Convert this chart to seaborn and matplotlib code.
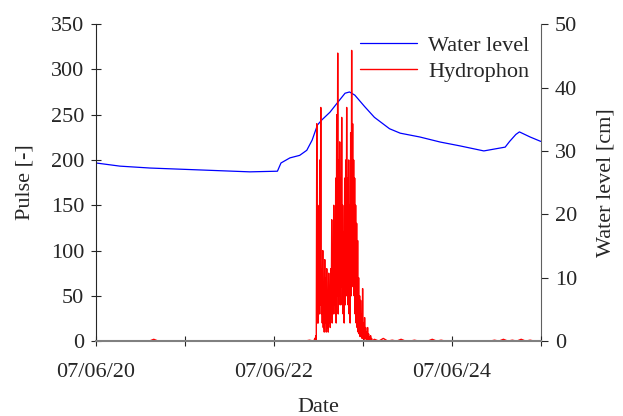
import numpy as np
import pandas as pd
import matplotlib
matplotlib.use("Agg")
import matplotlib.pyplot as plt
import seaborn as sns

# ---------------- data ----------------
# Water level [cm] at (day of June 2007, value)
wl_days = [20.00, 20.27, 20.61, 21.17, 21.73, 22.04, 22.08, 22.18, 22.29, 22.37,
           22.43, 22.49, 22.54, 22.63, 22.72, 22.80, 22.85, 22.91, 23.02, 23.13,
           23.30, 23.42, 23.64, 23.87, 24.09, 24.36, 24.48, 24.60, 24.65, 24.72,
           24.76, 24.88, 25.00]
wl_cm = [28.1, 27.6, 27.3, 27.0, 26.7, 26.8, 28.1, 28.9, 29.3, 30.1,
         31.7, 34.1, 34.9, 36.1, 37.7, 39.1, 39.3, 38.8, 37.0, 35.3,
         33.5, 32.8, 32.2, 31.4, 30.8, 30.0, 30.3, 30.6, 31.5, 32.6,
         33.0, 32.2, 31.5]

# Hydrophone pulses, quiet period before the event (every 0.05 day from 20.00)
hyd_pre = [0, 0, 0, 0, 0, 0, 0, 0, 0, 0, 0, 0, 0, 2, 0, 0, 0, 0, 0, 0,
           0, 0, 0, 0, 0, 0, 0, 0, 0, 0, 0, 0, 0, 0, 0, 0, 0, 0, 0, 0,
           0, 0, 0, 0, 0, 0, 0, 0, 1, 0]
# Event (every 0.0056 day from 22.46): high / low pairs
hyd_event = [3, 1, 6, 2, 240, 20, 150, 20, 100, 30, 200, 40, 258, 30, 80, 20,
             100, 15, 60, 10, 90, 20, 70, 10, 80, 15, 50, 10, 75, 20, 60, 15,
             80, 25, 134, 20, 100, 30, 150, 40, 120, 30, 180, 20, 250, 50, 318, 30,
             200, 50, 220, 40, 180, 60, 247, 40, 150, 30, 120, 20, 180, 40, 200, 50,
             258, 60, 180, 40, 200, 30, 150, 20, 230, 50, 321, 80, 240, 60, 200, 50,
             180, 30, 150, 20, 130, 15, 111, 10, 70, 8, 50, 5, 45, 5, 30, 3,
             58, 5, 20, 2, 26, 3, 15, 2, 10, 1, 15, 1, 8, 0, 5, 0, 6, 0, 3, 0]
# Quiet period after the event (every 0.05 day from 23.13)
hyd_post = [2, 0, 3, 0, 1, 0, 2, 0, 0, 1, 0, 0, 0, 2, 0, 1, 0, 0, 0, 0,
            0, 0, 0, 0, 0, 0, 0, 1, 0, 2, 0, 1, 0, 2, 0, 1, 0, 0]

# ---------------- build tables ----------------
base = pd.Timestamp("2007-06-01")
def to_time(days):
    return base + pd.to_timedelta(np.asarray(days) - 1, unit="D")

wl_df = pd.DataFrame({"Date": to_time(wl_days), "Water level": wl_cm})

t_pre = 20.0 + 0.05 * np.arange(len(hyd_pre))
t_evt = 22.46 + 0.0056 * np.arange(len(hyd_event))
t_post = 23.13 + 0.05 * np.arange(len(hyd_post))
hyd_df = pd.DataFrame({
    "Date": to_time(np.concatenate([t_pre, t_evt, t_post])),
    "Pulse": hyd_pre + hyd_event + hyd_post,
})

# ---------------- plot ----------------
sns.set_style("ticks")
plt.rcParams["font.family"] = ["Liberation Serif", "DejaVu Serif"]
plt.rcParams["font.size"] = 16

fig = plt.figure(figsize=(6.23, 4.16), dpi=100)
ax = fig.add_axes([0.154, 0.180, 0.714, 0.762])
ax2 = ax.twinx()

sns.lineplot(data=hyd_df, x="Date", y="Pulse", ax=ax, color="#ff0000",
             linewidth=1.0, label="Hydrophon", legend=False)
sns.lineplot(data=wl_df, x="Date", y="Water level", ax=ax2, color="#0000ff",
             linewidth=0.9, label="Water level", legend=False)

# red (pulse) drawn above blue (water level)
ax.set_zorder(ax2.get_zorder() + 1)
ax.patch.set_visible(False)

ax.set_ylim(0, 350)
ax.set_yticks(np.arange(0, 351, 50))
ax2.set_ylim(0, 50)
ax2.set_yticks(np.arange(0, 51, 10))
ax.set_xlim(to_time([20.0])[0], to_time([25.0])[0])

day_ticks = to_time([20, 21, 22, 23, 24, 25])
ax.set_xticks(day_ticks)
ax.set_xticklabels(["07/06/20", "", "07/06/22", "", "07/06/24", ""])

ax.set_xlabel("Date", labelpad=12)
ax.set_ylabel("Pulse [-]", labelpad=12)
ax2.set_ylabel("Water level [cm]", labelpad=14)

for a in (ax, ax2):
    a.tick_params(axis="both", direction="inout", length=7, width=0.8,
                  labelsize=16, pad=5)
    a.spines["top"].set_visible(False)
ax2.tick_params(axis="y", direction="out", length=5)
ax.spines["right"].set_visible(False)
ax2.spines["left"].set_visible(False)
ax2.spines["bottom"].set_visible(False)
ax.spines["bottom"].set_color("#808080")
ax.spines["bottom"].set_linewidth(1.5)
ax2.spines["right"].set_color("#606060")
ax.tick_params(axis="x", pad=12)

h1, l1 = ax2.get_legend_handles_labels()
h2, l2 = ax.get_legend_handles_labels()
leg = ax.legend(h1 + h2, l1 + l2, loc="upper right", frameon=False, fontsize=16,
                handlelength=2.6, borderaxespad=0.1, labelspacing=0.25,
                handletextpad=0.5, bbox_to_anchor=(1.0, 1.0))

fig.savefig("out.png", dpi=100)
